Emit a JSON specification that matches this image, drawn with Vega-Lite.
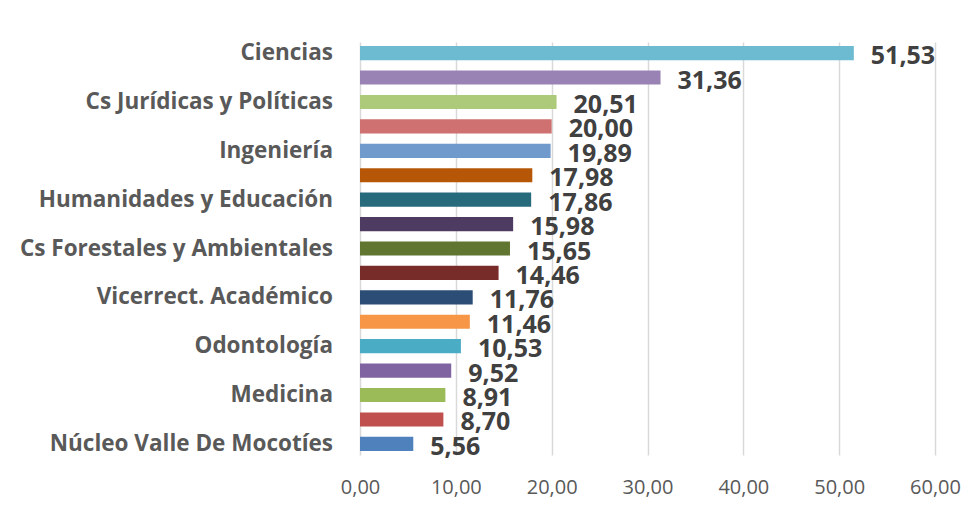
{
  "$schema": "https://vega.github.io/schema/vega-lite/v6.json",
  "autosize": "none",
  "width": 575,
  "height": 413,
  "padding": {"left": 360, "top": 42, "right": 42, "bottom": 55},
  "background": "white",
  "config": {
    "view": {"stroke": null},
    "locale": {"number": {"decimal": ",", "thousands": ".", "grouping": [3], "currency": ["", " €"]}}
  },
  "data": {
    "values": [
      {"orden": 1, "facultad": "Ciencias", "valor": 51.53},
      {"orden": 2, "facultad": "", "valor": 31.36},
      {"orden": 3, "facultad": "Cs Jurídicas y Políticas", "valor": 20.51},
      {"orden": 4, "facultad": "", "valor": 20.00},
      {"orden": 5, "facultad": "Ingeniería", "valor": 19.89},
      {"orden": 6, "facultad": "", "valor": 17.98},
      {"orden": 7, "facultad": "Humanidades y Educación", "valor": 17.86},
      {"orden": 8, "facultad": "", "valor": 15.98},
      {"orden": 9, "facultad": "Cs Forestales y Ambientales", "valor": 15.65},
      {"orden": 10, "facultad": "", "valor": 14.46},
      {"orden": 11, "facultad": "Vicerrect. Académico", "valor": 11.76},
      {"orden": 12, "facultad": "", "valor": 11.46},
      {"orden": 13, "facultad": "Odontología", "valor": 10.53},
      {"orden": 14, "facultad": "", "valor": 9.52},
      {"orden": 15, "facultad": "Medicina", "valor": 8.91},
      {"orden": 16, "facultad": "", "valor": 8.70},
      {"orden": 17, "facultad": "Núcleo Valle De Mocotíes", "valor": 5.56}
    ]
  },
  "encoding": {
    "y": {
      "field": "orden",
      "type": "ordinal",
      "scale": {"paddingInner": 0.42, "paddingOuter": 0.165},
      "axis": null
    }
  },
  "layer": [
    {
      "mark": {"type": "bar"},
      "encoding": {
        "x": {
          "field": "valor",
          "type": "quantitative",
          "scale": {"domain": [0, 60], "nice": false},
          "axis": {
            "values": [0, 10, 20, 30, 40, 50, 60],
            "format": ".2f",
            "title": null,
            "domain": false,
            "ticks": false,
            "grid": true,
            "gridColor": "#d9d9d9",
            "gridWidth": 1.5,
            "labelFlush": false,
            "labelFont": "Open Sans",
            "labelFontSize": 20,
            "labelColor": "#595959",
            "labelPadding": 22
          }
        },
        "color": {
          "field": "orden",
          "type": "ordinal",
          "legend": null,
          "scale": {
            "range": ["#6DBBD0", "#9983B5", "#ADCA7A", "#CF7170", "#7099CC", "#B65708", "#266A7B", "#4D3B62", "#5F7530", "#772C2A", "#2C4D75", "#F79646", "#4BACC6", "#8064A2", "#9BBB59", "#C0504D", "#4F81BD"]
          }
        }
      }
    },
    {
      "mark": {"type": "text", "align": "left", "baseline": "middle", "dx": 17, "dy": 3, "font": "Open Sans", "fontSize": 25, "fontWeight": "bold", "color": "#404040"},
      "encoding": {
        "x": {"field": "valor", "type": "quantitative"},
        "text": {"field": "valor", "type": "quantitative", "format": ".2f"}
      }
    },
    {
      "mark": {"type": "text", "align": "right", "baseline": "middle", "dx": -27, "font": "Open Sans", "fontSize": 22.5, "fontWeight": "bold", "color": "#595959"},
      "encoding": {
        "x": {"datum": 0, "type": "quantitative"},
        "text": {"field": "facultad", "type": "nominal"}
      }
    }
  ]
}
